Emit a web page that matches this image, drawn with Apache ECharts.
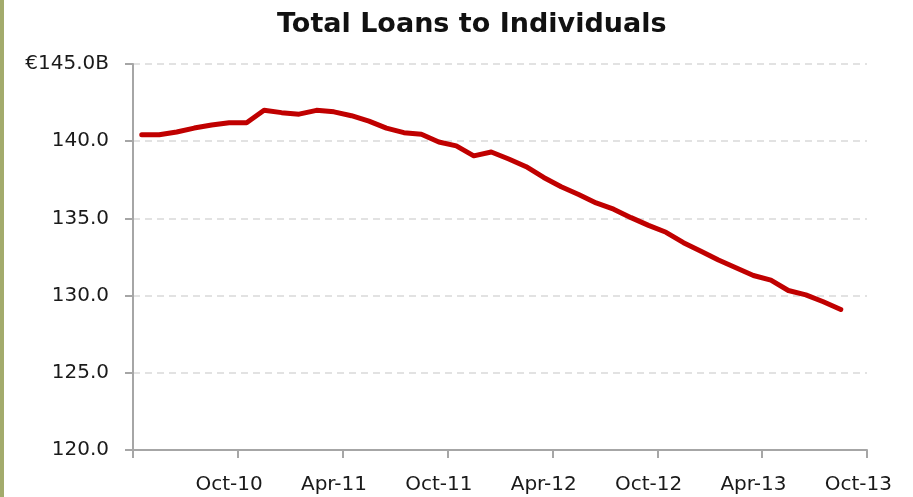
<!DOCTYPE html>
<html>
<head>
<meta charset="utf-8">
<script src="https://cdn.jsdelivr.net/npm/echarts@6/dist/echarts.min.js"></script>
<style>
  html, body { margin: 0; padding: 0; background: #ffffff; }
  #chart { width: 913px; height: 497px; }
</style>
</head>
<body>
<div id="chart"></div>
<script>
// Months May-10 .. Oct-13 (category axis)
const months = [
  "May-10","Jun-10","Jul-10","Aug-10","Sep-10","Oct-10","Nov-10","Dec-10",
  "Jan-11","Feb-11","Mar-11","Apr-11","May-11","Jun-11","Jul-11","Aug-11","Sep-11","Oct-11","Nov-11","Dec-11",
  "Jan-12","Feb-12","Mar-12","Apr-12","May-12","Jun-12","Jul-12","Aug-12","Sep-12","Oct-12","Nov-12","Dec-12",
  "Jan-13","Feb-13","Mar-13","Apr-13","May-13","Jun-13","Jul-13","Aug-13","Sep-13","Oct-13"
];
// Total loans to individuals, € billions
const loans = [
  140.42, 140.42, 140.60, 140.85, 141.05, 141.20, 141.20, 142.00,
  141.85, 141.75, 142.00, 141.90, 141.65, 141.30, 140.85, 140.55, 140.45, 139.95, 139.70, 139.05,
  139.30, 138.85, 138.35, 137.65, 137.05, 136.55, 136.00, 135.60, 135.05, 134.55, 134.10, 133.43,
  132.88, 132.30, 131.80, 131.30, 131.00, 130.33, 130.05, 129.60, 129.10
];
const yTicks = [120, 125, 130, 135, 140, 145];
const titleText = "Total Loans to Individuals";

const chart = echarts.init(document.getElementById('chart'), null, { renderer: 'canvas' });
const labelFont = 'DejaVu Sans';
chart.setOption({
  animation: false,
  backgroundColor: '#ffffff',
  graphic: [{
    type: 'rect', left: 0, top: 0,
    shape: { width: 4, height: 497 },
    style: { fill: '#a3ab6c' }
  }],
  title: {
    text: titleText,
    left: 272, top: 6,
    textStyle: { fontFamily: labelFont, fontWeight: 'bold', fontSize: 27, color: '#111111' }
  },
  grid: { left: 133, right: 46, top: 64, bottom: 47, containLabel: false },
  xAxis: {
    type: 'category',
    data: months,
    boundaryGap: true,
    axisLine: { lineStyle: { color: '#a6a6a6', width: 2 } },
    axisTick: {
      show: true, length: 8, alignWithLabel: false,
      interval: function (i) { return i % 6 === 0; },
      lineStyle: { color: '#a6a6a6', width: 2 }
    },
    axisLabel: {
      interval: function (i) { return i % 6 === 5; },
      margin: 25,
      fontFamily: labelFont, fontSize: 20, color: '#1a1a1a'
    },
    splitLine: { show: false }
  },
  yAxis: {
    type: 'value',
    min: yTicks[0], max: yTicks[yTicks.length - 1], interval: 5,
    axisLine: { show: true, lineStyle: { color: '#a6a6a6', width: 2 } },
    axisTick: { show: true, length: 8, lineStyle: { color: '#a6a6a6', width: 2 } },
    axisLabel: {
      margin: 24,
      fontFamily: labelFont, fontSize: 20, color: '#1a1a1a',
      formatter: function (v) { return v === 145 ? '€145.0B' : v.toFixed(1); }
    },
    splitLine: { show: true, lineStyle: { color: '#d9d9d9', width: 1.5, type: [7, 5] } }
  },
  series: [{
    type: 'line',
    data: loans,
    showSymbol: false,
    symbol: 'none',
    lineStyle: { color: '#c00000', width: 5, cap: 'round', join: 'round' },
    z: 3
  }]
});
</script>
</body>
</html>
